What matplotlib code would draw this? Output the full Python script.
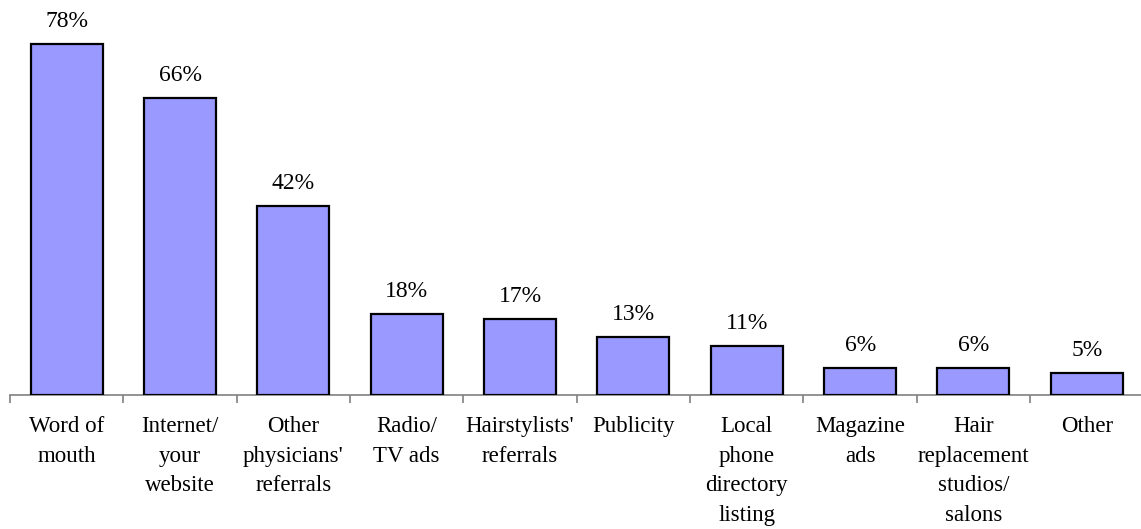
import matplotlib
matplotlib.use("Agg")
import matplotlib.pyplot as plt
import numpy as np

categories = ["Word of\nmouth", "Internet/\nyour\nwebsite", "Other\nphysicians'\nreferrals",
              "Radio/\nTV ads", "Hairstylists'\nreferrals", "Publicity",
              "Local\nphone\ndirectory\nlisting", "Magazine\nads",
              "Hair\nreplacement\nstudios/\nsalons", "Other"]
values = [78, 66, 42, 18, 17, 13, 11, 6, 6, 5]
value_labels = ["78%", "66%", "42%", "18%", "17%", "13%", "11%", "6%", "6%", "5%"]

plt.rcParams['font.family'] = ['Liberation Serif', 'DejaVu Serif']

W, H = 1141, 529
fig = plt.figure(figsize=(W / 100, H / 100), dpi=100)
left = 10 / W
bottom = (H - 395) / H
ax = fig.add_axes([left, bottom, 1133.5 / W, 395 / H])

x = np.arange(len(values))
ax.bar(x, values, width=0.635, color="#9999FF", edgecolor="black", linewidth=1.6, zorder=3)

for xi, v, lab in zip(x, values, value_labels):
    ax.annotate(lab, (xi, v), xytext=(0, 12), textcoords="offset points",
                ha="center", va="baseline", fontsize=17)

ax.set_xlim(-0.5, len(values) - 0.5)
ax.set_ylim(0, 395 / 4.5)

for s in ["top", "right", "left"]:
    ax.spines[s].set_visible(False)
ax.spines["bottom"].set_color("#808080")
ax.spines["bottom"].set_linewidth(1.2)
ax.set_yticks([])

ax.set_xticks(x)
ax.set_xticklabels(categories, fontsize=16.5, linespacing=1.55, va="top")
ax.tick_params(axis="x", which="major", length=0, pad=15)
ax.set_xticks(np.arange(len(values) + 1) - 0.5, minor=True)
ax.tick_params(axis="x", which="minor", length=6, color="#808080", width=1.2)

fig.savefig("out.png", dpi=100)
